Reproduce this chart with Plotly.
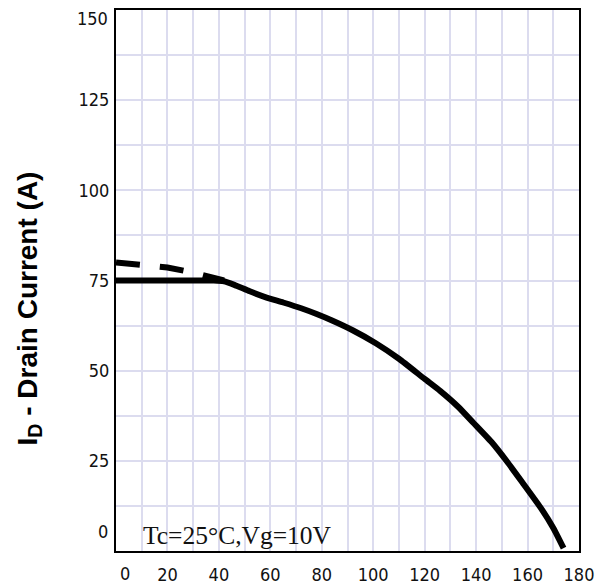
import plotly.graph_objects as go

# Data
temp_solid = [0, 20, 38, 42, 46, 52, 58, 65, 72, 78, 84, 92, 101, 110, 120, 126, 133, 139, 146, 152, 158, 165, 170, 174]
id_solid = [75, 75, 75, 74.8, 73.8, 72.0, 70.4, 68.9, 67.3, 65.7, 63.9, 61.2, 57.6, 53.3, 47.7, 44.4, 40.0, 35.5, 30.2, 24.8, 19.0, 12.1, 6.4, 0.8]

temp_dash = [0, 10, 20, 30, 38, 42]
id_dash = [80, 79.5, 78.6, 77.2, 75.8, 75.0]

x_ticks = [20, 40, 60, 80, 100, 120, 140, 160, 180]
y_ticks = [25, 50, 75, 100, 125]
y_top = 150

tick_font = dict(family="Liberation Sans Narrow, DejaVu Sans Condensed, Liberation Sans", size=18, color="#111")

fig = go.Figure()
fig.add_trace(go.Scatter(x=temp_dash, y=id_dash, mode="lines",
                         line=dict(color="black", width=6, dash="24px,20px"),
                         showlegend=False))
fig.add_trace(go.Scatter(x=temp_solid, y=id_solid, mode="lines",
                         line=dict(color="black", width=6, shape="spline", smoothing=0.5),
                         showlegend=False))

grid_c = "#dcdcef"
fig.update_xaxes(range=[0, 180], tickvals=x_ticks, ticktext=[str(v) for v in x_ticks],
                 showgrid=True, gridcolor=grid_c, gridwidth=1.5,
                 minor=dict(dtick=10, tick0=0, showgrid=True, gridcolor=grid_c, gridwidth=1.5),
                 showline=True, linecolor="black", linewidth=2, mirror=True, automargin=False,
                 ticks="", tickfont=tick_font, ticklabelstandoff=6, zeroline=False,
                 ticklabeloverflow="allow")
fig.update_yaxes(range=[0, y_top], tickvals=y_ticks, ticktext=[str(v) for v in y_ticks],
                 showgrid=True, gridcolor=grid_c, gridwidth=1.5,
                 minor=dict(dtick=12.5, tick0=0, showgrid=True, gridcolor=grid_c, gridwidth=1.5),
                 showline=True, linecolor="black", linewidth=2, mirror=True, automargin=False,
                 ticks="", tickfont=tick_font, ticklabelstandoff=1, zeroline=False)

# y-axis title (placed as rotated annotation to match its offset position)
fig.add_annotation(x=0, y=0.5, xref="paper", yref="paper", text="I<sub>D</sub> - Drain Current (A)",
                   textangle=-90, showarrow=False, xanchor="center", yanchor="middle",
                   xshift=-87, yshift=-28,
                   font=dict(family="Liberation Sans", size=28, color="black", weight="bold"))

fig.add_annotation(x=0, y=0, xref="x", yref="y", text="Tc=25°C,Vg=10V", showarrow=False,
                   xanchor="left", yanchor="bottom", xshift=25, yshift=-1,
                   font=dict(family="Liberation Serif, DejaVu Serif", size=25.5, color="#111"))
# corner labels offset as in the reference
fig.add_annotation(x=0, y=0, xref="x", yref="paper", text="0", showarrow=False,
                   yanchor="top", xshift=9, yshift=-10, font=tick_font)
fig.add_annotation(x=0, y=0, xref="paper", yref="y", text="0", showarrow=False,
                   xanchor="right", xshift=-6, yshift=20, font=tick_font)
fig.add_annotation(x=0, y=y_top, xref="paper", yref="y", text=str(y_top), showarrow=False,
                   xanchor="right", xshift=-6, yshift=-8, font=tick_font)

fig.update_layout(width=607, height=587, margin=dict(l=116, r=28, t=10, b=36),
                  plot_bgcolor="white", paper_bgcolor="white")
fig.write_html("out.html")
